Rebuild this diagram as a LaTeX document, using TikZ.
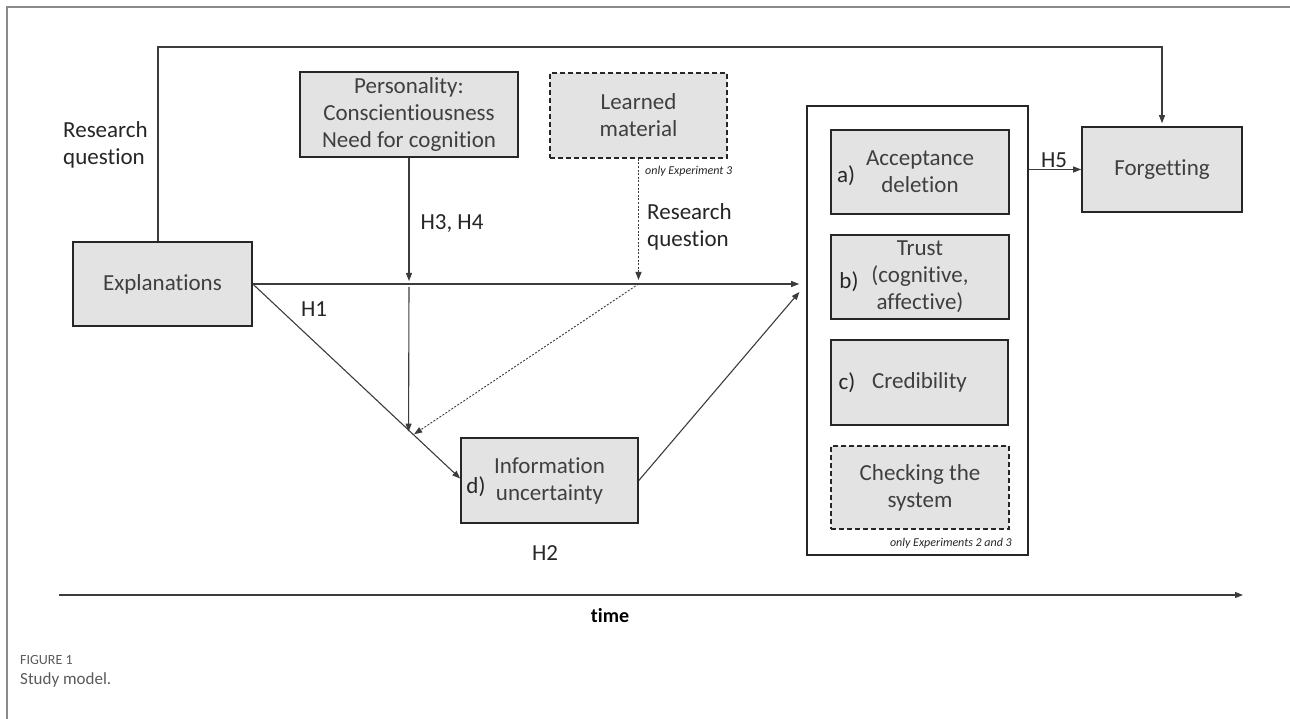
\documentclass[tikz,border=0pt]{standalone}
\usepackage{fontspec}
\setmainfont{Carlito}[Ligatures={NoCommon}]
\usetikzlibrary{arrows.meta,calc}
\definecolor{boxfill}{HTML}{E3E3E3}
\definecolor{boxline}{HTML}{262626}
\definecolor{conncol}{HTML}{3C3C3C}
\definecolor{txtcol}{HTML}{3F3F3F}
\definecolor{capcol}{HTML}{5A5A5A}
\definecolor{framecol}{HTML}{8A8A8A}
\tikzset{
  boxnode/.style={draw=boxline, fill=boxfill, line width=1.6pt, inner sep=0pt,
    align=center, text=txtcol, font=\fontsize{23}{27}\selectfont},
  dashbox/.style={boxnode, dash pattern=on 5pt off 3pt},
  contbox/.style={draw=boxline, line width=1.6pt, inner sep=0pt},
  lbl/.style={text=boxline, font=\fontsize{23}{27}\selectfont, inner sep=0pt, align=left},
  smalllbl/.style={text=boxline, font=\fontsize{12}{14}\selectfont\itshape, inner sep=0pt},
  conn/.style={draw=conncol, line width=1.1pt},
  tip/.style={-{Triangle[length=8pt,width=6pt]}},
  dotconn/.style={conn, line width=0.9pt, dash pattern=on 2pt off 1.6pt},
}
\begin{document}
\begin{tikzpicture}[x=1pt,y=-1pt]
\useasboundingbox (0,0) rectangle (1290,719);
% page frame
\draw[framecol, line width=1.4pt] (7,719) -- (7,7) -- (1290,7);

% boxes
\node[boxnode, minimum width=179pt, minimum height=84pt] (expl) at (162.5,284) {Explanations};
\node[boxnode, minimum width=218pt, minimum height=85pt] (pers) at (409,114.5) {Personality:\\Conscientiousness\\Need for cognition};
\node[dashbox, minimum width=177pt, minimum height=85pt] (learn) at (638.5,115.5) {Learned\\material};
\node[contbox, minimum width=221pt, minimum height=449pt] (cont) at (917.5,330.5) {};
\node[boxnode, minimum width=178pt, minimum height=84pt] (acc) at (920,172) {Acceptance\\deletion};
\node[boxnode, minimum width=178pt, minimum height=84pt] (trust) at (920,277) {Trust\\(cognitive,\\affective)};
\node[boxnode, minimum width=177pt, minimum height=85pt] (cred) at (919.5,382.5) {Credibility};
\node[dashbox, minimum width=178pt, minimum height=83pt] (check) at (920,487.5) {Checking the\\system};
\node[boxnode, minimum width=177pt, minimum height=85pt] (info) at (549.5,480.5) {Information\\uncertainty};
\node[boxnode, minimum width=160pt, minimum height=85pt] (forget) at (1162,169.5) {Forgetting};

% item letters
\node[lbl] (la) at (846,176) {a)};
\node[lbl] (lb) at (849,282) {b)};
\node[lbl] (lc) at (847,383) {c)};
\node[lbl] (ld) at (476,487) {d)};

% labels
\node[lbl, anchor=west] (rq1) at (63,145) {Research\\question};
\node[lbl, anchor=west] (rq2) at (647,227) {Research\\question};
\node[lbl] (h34) at (452,224) {H3, H4};
\node[lbl] (h1) at (314,309) {H1};
\node[lbl] (h2) at (545,553) {H2};
\node[lbl] (h5) at (1054,160) {H5};
\node[smalllbl, anchor=west] (only3) at (645,171) {only Experiment 3};
\node[smalllbl, anchor=east] (only23) at (1012,543) {only Experiments 2 and 3};

% connectors
\coordinate (topy) at (0,47);
\draw[conn, tip, shorten >=3pt] ($(expl.north)+(-4.5,0)$) |- (topy -| forget.north) -- (forget.north);
\draw[conn, tip, shorten >=7pt] (expl.east) -- (cont.west |- expl.east);
\draw[conn, tip, shorten >=10.5pt] (info.east) -- (cont.west |- expl.east);
\draw[conn, tip] (expl.east) -- ($(info.west)+(0,-2)$);
\coordinate (j1) at ($(expl.east)!0.751!(info.west)$);
\coordinate (j2) at ($(expl.east)!0.77!(info.west)$);
\draw[conn, tip, shorten >=3pt] (pers.south) -- (pers.south |- expl.east);
\draw[conn, tip, shorten <=3pt] (pers.south |- expl.east) -- (j1);
\draw[dotconn, tip, shorten >=4pt] (learn.south) -- (learn.south |- expl.east);
\draw[dotconn, tip, shorten >=2pt] (learn.south |- expl.east) -- (j2);
\draw[conn, tip] (cont.east |- forget.west) -- (forget.west);

% time axis
\coordinate (t0) at (59,595);
\coordinate (t1) at (1243,595);
\draw[conn, tip] (t0) -- (t1);
\node[text=black, font=\fontsize{20}{24}\selectfont\bfseries, inner sep=0pt] (time) at (610,616) {time};

% caption
\node[anchor=west, text=capcol, font=\fontsize{14}{16}\selectfont, inner sep=0pt] (fig) at (20,660) {FIGURE 1};
\node[anchor=west, text=capcol, font=\fontsize{17}{20}\selectfont, inner sep=0pt] (cap) at (20,680) {Study model.};
\end{tikzpicture}
\end{document}
